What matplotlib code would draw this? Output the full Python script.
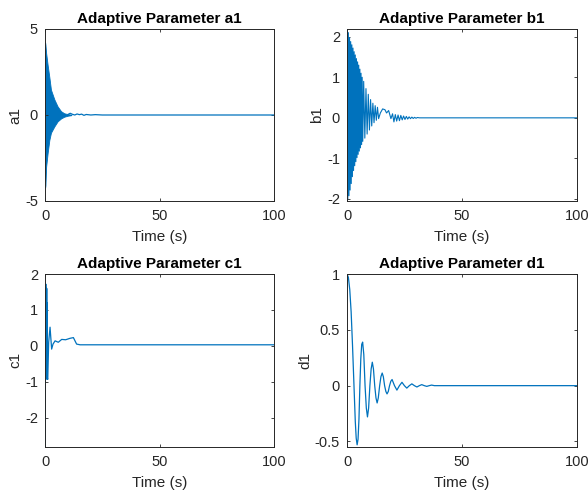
import matplotlib
matplotlib.use("Agg")
import matplotlib.pyplot as plt

plt.rcParams['font.family'] = ['Liberation Sans', 'DejaVu Sans']
plt.rcParams['axes.unicode_minus'] = False

BLUE = '#0072BD'
GRAY = '#262626'

# ---- a1: dense oscillation envelope + tail ----
a1_env_t = [0, 0.15, 0.5, 1.16, 1.9, 2.6, 4.1, 5.5, 7.0, 8.4, 10, 11.5]
a1_env_up = [4.2, 4.1, 3.6, 2.9, 2.2, 1.47, 0.9, 0.5, 0.22, 0.1, 0.05, 0.02]
a1_env_lo = [-4.2, -4.1, -3.0, -2.2, -1.45, -1.03, -0.66, -0.37, -0.2, -0.1, -0.04, -0.01]
a1_tail_t = [10, 11, 12, 13, 14, 15, 16, 17, 18, 20, 22, 25, 30, 100]
a1_tail_v = [0.03, 0.1, 0.04, 0.0, 0.06, 0.02, 0.05, -0.02, 0.03, 0.0, 0.02, 0.0, 0.0, 0.0]

# ---- b1: zigzag peaks ----
b1_t = [0, 0.1, 0.35, 0.6, 0.85, 1.1, 1.35, 1.6, 1.85, 2.1, 2.35, 2.6, 2.85,
        3.1, 3.35, 3.6, 3.85, 4.1, 4.35, 4.6, 4.85, 5.1, 5.35, 5.6, 5.85,
        6.1, 6.35, 6.6, 6.85,
        7.25, 7.75, 8.25, 8.75, 9.25, 9.75, 10.25, 10.75, 11.25, 11.75,
        12.25, 12.75, 13.25, 13.75,
        14.5, 15.5, 16.5, 17.2, 18.1, 19.1, 19.8, 20.4, 21.0, 21.6,
        22.2, 22.8, 23.4, 24.0, 24.6, 25.2, 25.8, 26.4, 27.0, 27.6,
        28.2, 28.8, 29.4, 30.0, 30.6, 31.5, 100]
b1_v = [0.3, 2.17, -2.0, 2.1, -1.92, 1.98, -1.78, 1.88, -1.62, 1.8, -1.45, 1.72, -1.3,
        1.63, -1.18, 1.55, -1.08, 1.46, -0.98, 1.38, -0.9, 1.3, -0.82, 1.2, -0.74,
        1.1, -0.66, 1.0, -0.58,
        0.9, -0.5, 0.72, -0.4, 0.58, -0.3, 0.45, -0.2, 0.36, -0.12,
        0.3, -0.06, 0.26, -0.02,
        0.12, 0.22, 0.2, 0.12, 0.18, -0.02, 0.1, -0.1, 0.08, -0.08,
        0.07, -0.07, 0.06, -0.05, 0.045, -0.04, 0.035, -0.03, 0.025, -0.02,
        0.018, -0.015, 0.012, -0.01, 0.008, 0.0, 0.0]

# ---- c1 ----
c1_t = [0, 0.05, 0.15, 0.25, 0.35, 0.45, 0.55, 0.65, 0.75, 0.85, 0.95, 1.05,
        1.2, 1.6, 2.2, 2.9, 3.5, 4.4, 5.8, 7.3, 9, 10.9, 12.4, 13.8, 15.3, 20, 100]
c1_v = [1.0, -2.8, 1.2, -0.9, 1.72, -0.9, 1.3, -0.9, 1.6, -0.93, 1.2, -0.9,
        -0.93, 0.1, 0.52, -0.09, 0.05, 0.14, 0.1, 0.18, 0.17, 0.21, 0.23, 0.05, 0.03, 0.03, 0.03]

# ---- d1 ----
d1_t = [0, 0.6, 1.2, 1.8, 2.4, 3.0, 3.6, 4.0, 4.4, 4.8, 5.2, 5.6, 6.0, 6.4, 6.8,
        7.3, 7.85, 8.4, 8.9, 9.4, 9.95, 10.5, 11.0, 11.5, 12.05, 12.6, 13.1,
        13.6, 14.2, 14.75, 15.3, 15.8, 16.35, 16.9, 17.4, 17.95, 18.5, 19.05, 19.6,
        20.65, 21.7, 22.8, 23.9, 24.95, 26.0, 27.1, 28.2, 29.3, 30.4, 31.45, 32.5,
        33.6, 34.7, 35.75, 36.8, 38, 40, 100]
d1_v = [1.0, 0.97, 0.86, 0.66, 0.36, 0.02, -0.32, -0.47, -0.53, -0.48, -0.3, 0.0, 0.24, 0.37, 0.39,
        0.28, 0.0, -0.2, -0.28, -0.2, 0.0, 0.15, 0.21, 0.15, 0.0, -0.11, -0.155,
        -0.11, 0.0, 0.08, 0.113, 0.08, 0.0, -0.052, -0.074, -0.052, 0.0, 0.039, 0.055,
        0.0, -0.04, 0.0, 0.03, 0.0, -0.022, 0.0, 0.016, 0.0, -0.012, 0.0, 0.009,
        0.0, -0.0065, 0.0, 0.005, 0.0, 0.0, 0.0]

titles = ['Adaptive Parameter a1', 'Adaptive Parameter b1',
          'Adaptive Parameter c1', 'Adaptive Parameter d1']
ylabels = ['a1', 'b1', 'c1', 'd1']
xticks = [0, 50, 100]
yticks_list = [[-5, 0, 5], [-2, -1, 0, 1, 2], [-2, -1, 0, 1, 2], [-0.5, 0, 0.5, 1]]
ytick_labels = [['-5', '0', '5'], ['-2', '-1', '0', '1', '2'], ['-2', '-1', '0', '1', '2'],
                ['-0.5', '0', '0.5', '1']]
ylims = [(-5, 5), (-2.05, 2.19), (-2.8, 2.0), (-0.545, 1.0)]

W, H = 588, 493
fig = plt.figure(figsize=(W / 100, H / 100), dpi=100)
rects = [(45, 29, 274, 201), (347, 29, 577, 201), (45, 274, 274, 446.5), (347, 274, 577, 446.5)]
axes = []
for (x0, y0, x1, y1) in rects:
    axes.append(fig.add_axes([x0 / W, 1 - y1 / H, (x1 - x0) / W, (y1 - y0) / H]))

lw = 0.9
ax = axes[0]
ax.fill_between(a1_env_t, a1_env_lo, a1_env_up, color=BLUE, lw=0.6, edgecolor=BLUE)
ax.plot([0, 0], [a1_env_lo[0], a1_env_up[0]], color=BLUE, lw=lw)
ax.plot(a1_tail_t, a1_tail_v, color=BLUE, lw=lw)
axes[1].plot(b1_t, b1_v, color=BLUE, lw=0.8)
axes[2].plot(c1_t, c1_v, color=BLUE, lw=lw)
axes[3].plot(d1_t, d1_v, color=BLUE, lw=lw)

for i, ax in enumerate(axes):
    ax.set_xlim(0, 100)
    ax.set_ylim(*ylims[i])
    ax.set_xticks(xticks)
    ax.set_xticklabels([str(v) for v in xticks])
    ax.set_yticks(yticks_list[i])
    ax.set_yticklabels(ytick_labels[i])
    ax.tick_params(direction='in', length=2.5, width=0.6, colors=GRAY,
                   labelsize=10.5, top=True, right=True)
    ax.tick_params(axis='x', pad=6)
    ax.tick_params(axis='y', pad=5)
    for s in ax.spines.values():
        s.set_color(GRAY)
        s.set_linewidth(0.7)
    ax.set_title(titles[i], fontsize=11, fontweight='bold', color='black', pad=4)
    ax.set_xlabel('Time (s)', fontsize=11, color=GRAY, labelpad=5)
    ax.set_ylabel(ylabels[i], fontsize=11, color=GRAY, labelpad=2)

fig.savefig('out.png', dpi=100)
